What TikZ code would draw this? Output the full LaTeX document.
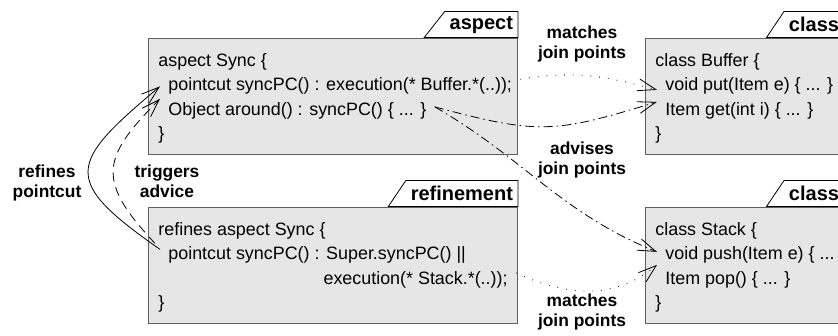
\documentclass[tikz,border=0pt]{standalone}
\usepackage{fontspec}
\setmainfont{Liberation Sans}
\usetikzlibrary{positioning,arrows.meta,shapes.geometric}
\definecolor{boxfill}{HTML}{E6E6E6}
\definecolor{boxline}{HTML}{5F5F5F}

\begin{document}
\begin{tikzpicture}[x=1pt,y=-1pt,>={Straight Barb[length=18pt,width=12pt]},line width=0.8pt,
    code box/.style={rectangle,draw=boxline,fill=boxfill,line width=1.4pt,anchor=north west,
      minimum height=116pt,inner sep=0pt},
    code line/.style={anchor=base west,inner xsep=8pt,inner ysep=0pt,font=\fontsize{17.9}{20}\selectfont},
    tab node/.style={trapezium,trapezium left angle=40,trapezium right angle=90,trapezium stretches body,
      draw,fill=white,line width=0.8pt,minimum height=26pt,inner xsep=5pt,inner ysep=0pt,
      anchor=bottom right corner,font=\bfseries\fontsize{20}{22}\selectfont},
    note/.style={align=center,font=\bfseries\fontsize{17.4}{20}\selectfont},
    matchline/.style={->,dash pattern=on 0.8pt off 8pt},
    adviseline/.style={->,dash pattern=on 9pt off 4pt on 1.5pt off 4pt},
    triggerline/.style={->,dash pattern=on 9pt off 6pt}]
    \useasboundingbox (0,0) rectangle (838,336);
    % boxes
      \node[code box,minimum width=369pt] (aspect) at (148,38) {};
      \node[code box,minimum width=369pt] (refinement) at (148,207) {};
      \node[code box,minimum width=198pt] (buffer) at (645,38) {};
      \node[code box,minimum width=198pt] (stack) at (645,207) {};
      \node[tab node] (aspecttab) at (aspect.north east) {aspect};
      \node[tab node] (refinementtab) at (refinement.north east) {refinement};
      \node[tab node] (buffertab) at (buffer.north east) {class};
      \node[tab node] (stacktab) at (stack.north east) {class};
    % code
      \node[code line] (ahead) at (150,66.5) {aspect Sync \{};
      \node[code line] (apc) at (160,91) {pointcut syncPC() : execution(* Buffer.*(..));};
      \node[code line] (aobj) at (160,115.5) {Object around() : syncPC() \{ ... \}};
      \node[code line] (aend) at (150,140) {\}};
      \node[code line] (rhead) at (150,235.5) {refines aspect Sync \{};
      \node[code line] (rpc) at (160,260) {pointcut syncPC() : Super.syncPC() ||};
      \node[code line,anchor=base east] (rexec) at (516,284.5) {execution(* Stack.*(..));};
      \node[code line] (rend) at (150,309) {\}};
      \node[code line] (bhead) at (647,66.5) {class Buffer \{};
      \node[code line] (bput) at (657,91) {void put(Item e) \{ ... \}};
      \node[code line] (bget) at (657,115.5) {Item get(int i) \{ ... \}};
      \node[code line] (bend) at (647,140) {\}};
      \node[code line] (shead) at (647,235.5) {class Stack \{};
      \node[code line] (spush) at (657,260) {void push(Item e) \{ ... \}};
      \node[code line] (spop) at (657,284.5) {Item pop() \{ ... \}};
      \node[code line] (send) at (647,309) {\}};
    % labels
      \node[note] (matchtop) at (582,44.5) {matches\\join points};
      \node[note] (advises) at (582,160) {advises\\join points};
      \node[note] (matchbottom) at (582,312) {matches\\join points};
      \node[note] (refines) at (47,183) {refines\\pointcut};
      \node[note] (triggers) at (167,181.5) {triggers\\advice};
    %edges
      \draw[->] ([yshift=6pt]rpc.west) to[out=145,in=220,looseness=1.9] (apc.west);
      \draw[triggerline] ([xshift=-5pt,yshift=12pt]rpc.west) to[out=133,in=225,looseness=1.5] ([yshift=12pt]aobj.west);
      \draw[matchline] ([yshift=7pt]apc.east) to[out=10,in=165] ([yshift=-3.5pt]bput.west);
      \draw[adviseline] ([yshift=4pt]aobj.east) to[out=-15,in=197,looseness=1.24] ([yshift=9pt]bget.west);
      \draw[adviseline] ([yshift=4pt]aobj.east) to[out=-30,in=158] ([yshift=3.5pt]spush.west);
      \draw[matchline] ([yshift=7pt]rexec.east) to[out=-25,in=220] ([yshift=15pt]spop.west);
    \end{tikzpicture}
\end{document}
